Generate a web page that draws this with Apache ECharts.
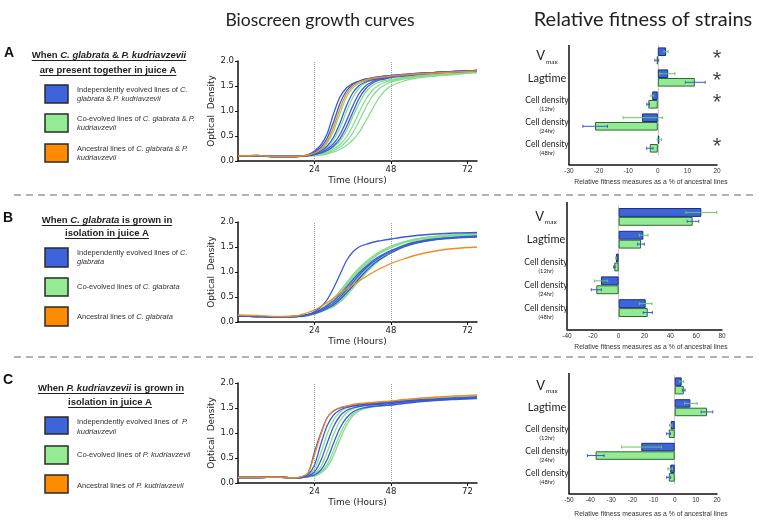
<!DOCTYPE html>
<html><head><meta charset="utf-8">
<script src="https://cdn.jsdelivr.net/npm/echarts@6/dist/echarts.min.js"></script>
<style>html,body{margin:0;padding:0;background:#fff}#c{width:763px;height:521px}</style>
</head><body><div id="c"></div>
<script>
// ---------- DATA ----------
const hours = [0,6,12,18,20,22,24,26,28,30,32,34,36,38,40,42,44,46,48,52,56,62,68,75];
const timeTicks = [24,48,72];

// Panel A growth curves (C. glabrata & P. kudriavzevii together)
const growthA_indep = [
 [0.10,0.11,0.09,0.09,0.10,0.13,0.20,0.32,0.55,0.95,1.28,1.46,1.55,1.60,1.64,1.66,1.68,1.70,1.71,1.73,1.75,1.77,1.79,1.81],
 [0.10,0.11,0.09,0.09,0.10,0.12,0.18,0.27,0.46,0.78,1.15,1.40,1.53,1.59,1.63,1.66,1.68,1.69,1.71,1.73,1.75,1.77,1.79,1.81],
 [0.10,0.10,0.09,0.09,0.10,0.11,0.14,0.20,0.30,0.48,0.76,1.10,1.36,1.51,1.58,1.62,1.65,1.67,1.69,1.72,1.74,1.77,1.79,1.81],
 [0.10,0.10,0.09,0.09,0.10,0.11,0.13,0.17,0.24,0.35,0.53,0.80,1.10,1.35,1.50,1.58,1.63,1.66,1.68,1.71,1.74,1.77,1.79,1.81],
 [0.10,0.10,0.09,0.09,0.10,0.11,0.13,0.16,0.21,0.30,0.45,0.68,0.97,1.25,1.44,1.55,1.61,1.64,1.67,1.70,1.73,1.76,1.78,1.80]
];
const growthA_coev = [
 [0.10,0.10,0.09,0.09,0.10,0.11,0.15,0.22,0.36,0.60,0.95,1.27,1.46,1.55,1.60,1.63,1.65,1.67,1.68,1.71,1.73,1.75,1.77,1.79],
 [0.10,0.10,0.09,0.09,0.10,0.11,0.13,0.18,0.27,0.42,0.66,0.98,1.27,1.46,1.56,1.61,1.64,1.66,1.67,1.70,1.72,1.75,1.77,1.79],
 [0.10,0.10,0.09,0.09,0.10,0.10,0.12,0.15,0.20,0.28,0.40,0.60,0.88,1.15,1.37,1.50,1.57,1.61,1.63,1.67,1.70,1.73,1.76,1.78],
 [0.10,0.10,0.09,0.09,0.10,0.10,0.12,0.14,0.18,0.24,0.33,0.48,0.70,0.97,1.22,1.40,1.51,1.57,1.61,1.66,1.69,1.72,1.75,1.78],
 [0.10,0.10,0.09,0.09,0.10,0.10,0.11,0.13,0.16,0.21,0.28,0.39,0.56,0.80,1.06,1.28,1.43,1.52,1.58,1.64,1.68,1.71,1.74,1.77],
 [0.10,0.10,0.09,0.09,0.10,0.10,0.11,0.12,0.14,0.18,0.23,0.31,0.42,0.57,0.79,1.02,1.24,1.40,1.50,1.60,1.66,1.70,1.73,1.77]
];
const growthA_anc = [
 [0.10,0.11,0.09,0.09,0.10,0.12,0.16,0.24,0.40,0.68,1.05,1.34,1.50,1.58,1.62,1.65,1.67,1.68,1.70,1.72,1.74,1.76,1.78,1.80]
];

// Panel B growth curves (C. glabrata alone)
const growthB_indep = [
 [0.12,0.11,0.10,0.11,0.12,0.15,0.21,0.30,0.45,0.68,0.95,1.22,1.40,1.50,1.55,1.59,1.62,1.64,1.66,1.70,1.73,1.76,1.78,1.79],
 [0.12,0.11,0.10,0.11,0.12,0.15,0.19,0.25,0.33,0.42,0.55,0.69,0.84,0.98,1.10,1.21,1.30,1.37,1.43,1.53,1.60,1.66,1.69,1.71],
 [0.12,0.11,0.10,0.11,0.12,0.14,0.18,0.23,0.30,0.38,0.50,0.64,0.79,0.94,1.07,1.18,1.27,1.35,1.41,1.52,1.59,1.65,1.68,1.70],
 [0.12,0.11,0.10,0.11,0.12,0.14,0.17,0.21,0.27,0.34,0.45,0.58,0.72,0.87,1.01,1.13,1.23,1.31,1.38,1.50,1.58,1.65,1.69,1.72]
];
const growthB_coev = [
 [0.12,0.11,0.10,0.11,0.12,0.14,0.19,0.26,0.35,0.47,0.62,0.78,0.94,1.08,1.20,1.30,1.39,1.46,1.52,1.60,1.66,1.71,1.74,1.76],
 [0.12,0.11,0.10,0.11,0.12,0.14,0.18,0.24,0.33,0.44,0.57,0.72,0.87,1.01,1.14,1.25,1.35,1.42,1.48,1.58,1.65,1.71,1.74,1.77],
 [0.12,0.11,0.10,0.11,0.12,0.13,0.17,0.22,0.29,0.36,0.47,0.61,0.76,0.91,1.05,1.17,1.27,1.35,1.42,1.54,1.62,1.69,1.73,1.75],
 [0.12,0.11,0.10,0.11,0.11,0.13,0.16,0.21,0.27,0.33,0.43,0.56,0.71,0.86,1.00,1.13,1.24,1.33,1.40,1.52,1.61,1.68,1.72,1.74],
 [0.12,0.11,0.10,0.11,0.11,0.13,0.16,0.20,0.25,0.31,0.40,0.52,0.67,0.82,0.97,1.10,1.21,1.30,1.38,1.50,1.60,1.68,1.72,1.75],
 [0.12,0.11,0.10,0.11,0.12,0.14,0.18,0.25,0.34,0.45,0.59,0.75,0.90,1.04,1.17,1.28,1.37,1.44,1.50,1.59,1.66,1.71,1.75,1.77]
];
const growthB_anc = [
 [0.14,0.13,0.11,0.12,0.15,0.19,0.24,0.31,0.39,0.48,0.57,0.66,0.74,0.82,0.90,0.98,1.05,1.11,1.17,1.26,1.34,1.42,1.47,1.50]
];

// Panel C growth curves (P. kudriavzevii alone)
const growthC_indep = [
 [0.11,0.11,0.12,0.10,0.12,0.20,0.62,1.00,1.31,1.44,1.50,1.53,1.55,1.57,1.58,1.59,1.60,1.61,1.62,1.64,1.66,1.68,1.70,1.72],
 [0.11,0.11,0.12,0.10,0.12,0.17,0.36,0.78,1.15,1.36,1.46,1.51,1.54,1.56,1.57,1.58,1.59,1.60,1.61,1.63,1.65,1.67,1.69,1.71],
 [0.11,0.11,0.12,0.10,0.11,0.14,0.22,0.45,0.80,1.13,1.34,1.45,1.50,1.53,1.55,1.56,1.57,1.58,1.59,1.62,1.64,1.66,1.68,1.70],
 [0.11,0.11,0.12,0.10,0.11,0.13,0.16,0.26,0.47,0.80,1.10,1.30,1.42,1.48,1.51,1.53,1.54,1.55,1.56,1.59,1.62,1.65,1.67,1.69]
];
const growthC_coev = [
 [0.11,0.11,0.12,0.10,0.12,0.15,0.28,0.60,0.98,1.26,1.42,1.50,1.54,1.57,1.59,1.60,1.61,1.62,1.63,1.66,1.68,1.70,1.72,1.74],
 [0.11,0.11,0.12,0.10,0.11,0.13,0.18,0.33,0.62,0.97,1.24,1.40,1.48,1.53,1.56,1.58,1.59,1.60,1.61,1.64,1.66,1.69,1.71,1.73],
 [0.11,0.11,0.12,0.10,0.11,0.13,0.15,0.22,0.37,0.65,0.97,1.22,1.38,1.46,1.50,1.53,1.55,1.56,1.57,1.60,1.63,1.66,1.69,1.71],
 [0.11,0.11,0.12,0.10,0.11,0.12,0.14,0.20,0.32,0.55,0.87,1.15,1.34,1.44,1.49,1.52,1.54,1.55,1.56,1.60,1.63,1.66,1.69,1.71]
];
const growthC_anc = [
 [0.11,0.11,0.12,0.10,0.13,0.20,0.56,0.97,1.30,1.45,1.51,1.54,1.57,1.59,1.60,1.61,1.62,1.63,1.64,1.67,1.69,1.72,1.74,1.76]
];

// Relative fitness bars
const fitnessCats = ['Vmax','Lagtime','Cell density (12hr)','Cell density (24hr)','Cell density (48hr)'];
const barA_indep = [2.8, 3.5, -1.9, -5.3, 0.5];
const barA_coev  = [-0.3, 12.5, -3.2, -21.2, -2.7];
const errA_indep_lo = [2.1, 0.6, -2.3, -11.7, -0.2];
const errA_indep_hi = [3.5, 5.8, -1.5, 1.5, 1.3];
const errA_coev_lo  = [-1.0, 9.3, -3.7, -25.3, -3.8];
const errA_coev_hi  = [0.3, 16.0, -2.8, -17.0, -1.6];
const starsA = ['*','*','*','','*'];

const barB_indep = [64, 19.1, -2.1, -13.7, 20.9];
const barB_coev  = [57.3, 17.3, -3.4, -17.3, 22.5];
const errB_indep_lo = [52, 16, -2.4, -18.8, 16];
const errB_indep_hi = [76, 22.7, -1.8, -8.5, 25.8];
const errB_coev_lo  = [53, 14.7, -3.9, -21.2, 19];
const errB_coev_hi  = [62, 19.9, -2.8, -13.4, 26];

const barC_indep = [3.3, 7.4, -1.9, -15.8, -2.1];
const barC_coev  = [4.3, 15.3, -2.8, -37.4, -2.8];
const errC_indep_lo = [2.4, 4.7, -2.5, -25.2, -3.2];
const errC_indep_hi = [4.3, 10.6, -1.3, -6.3, -1.1];
const errC_coev_lo  = [3.6, 12.5, -3.8, -41.3, -3.8];
const errC_coev_hi  = [4.9, 18.0, -2.0, -33.4, -1.9];

const fitnessRanges = [[-30,20,10],[-40,80,20],[-50,20,10]];

// ---------- STYLE ----------
const BLUE = '#3a5ad8', GREEN = '#84dd8c', ORANGE = '#f28a1e';
const BAR_BLUE = '#3e64dc', BAR_BLUE_B = '#1c2f80', BAR_GREEN = '#93ec93', BAR_GREEN_B = '#2f6a2f';
const ERR_GREEN = '#62c862', ERR_BLUE = '#3a58d6';
const SANS = 'Liberation Sans', MPL = 'DejaVu Sans', CAL = 'Lato';

const chart = echarts.init(document.getElementById('c'), null, {renderer:'canvas'});

const growthTops = [61, 222, 383];
const barGrids = [
  {left:569, top:45, height:110, right:763-717, axisTop:45},
  {left:567, top:205.5, height:114, right:763-722, axisTop:202},
  {left:569, top:375, height:109, right:763-717, axisTop:373}
];
const AXIS_OFFSET = 10;

const grids = [], xAxes = [], yAxes = [], series = [];

growthTops.forEach((t, gi) => {
  grids.push({left:238, top:t, width:239, height:100});
  xAxes.push({type:'value', gridIndex:gi, min:0, max:75, interval:24,
    name:'Time (Hours)', nameLocation:'middle', nameGap:15,
    nameTextStyle:{fontFamily:MPL, fontSize:9, color:'#222'},
    axisLine:{show:true, lineStyle:{color:'#111', width:1.5}},
    axisTick:{show:true, length:3, lineStyle:{color:'#111'}, customValues:timeTicks},
    axisLabel:{fontFamily:MPL, fontSize:8.5, color:'#222', margin:4, customValues:timeTicks},
    splitLine:{show:false}});
  yAxes.push({type:'value', gridIndex:gi, min:0, max:2, interval:0.5,
    name:'Optical  Density', nameLocation:'middle', nameGap:22,
    nameTextStyle:{fontFamily:MPL, fontSize:9, color:'#222'},
    axisLine:{show:true, lineStyle:{color:'#111', width:1.5}},
    axisTick:{show:true, length:3, lineStyle:{color:'#111'}},
    axisLabel:{fontFamily:MPL, fontSize:8.5, color:'#222', margin:4, formatter:v=>v.toFixed(1)},
    splitLine:{show:false}});
});

const growthSets = [
  [growthA_coev, growthA_indep, growthA_anc],
  [growthB_coev, growthB_indep, growthB_anc],
  [growthC_coev, growthC_indep, growthC_anc]
];
growthSets.forEach((set, gi) => {
  let first = true;
  [[set[0], GREEN], [set[1], BLUE], [set[2], ORANGE]].forEach(([curves, col]) => {
    curves.forEach(arr => {
      const s = {type:'line', xAxisIndex:gi, yAxisIndex:gi, data:hours.map((h,i)=>[h, arr[i]]),
        smooth:0.3, symbol:'none', silent:true, lineStyle:{color:col, width:1.3}, itemStyle:{color:col}, z:3};
      if (first) {
        s.markLine = {silent:true, symbol:['none','none'], label:{show:false},
          lineStyle:{type:'dotted', color:'#9a9a9a', width:1}, data:[{xAxis:24},{xAxis:48}], z:1};
        first = false;
      }
      series.push(s);
    });
  });
});

// category labels
const catLabelText = ['{v|V}{s|max}', '{l|Lagtime}',
  '{sp| }\n{c|Cell density}\n{h|(12hr)}', '{sp| }\n{c|Cell density}\n{h|(24hr)}', '{sp| }\n{c|Cell density}\n{h|(48hr)}'];
const catRich = {
  v:{fontFamily:CAL, fontSize:13, color:'#222'},
  s:{fontFamily:CAL, fontSize:6.5, color:'#222', padding:[11,0,0,1]},
  l:{fontFamily:CAL, fontSize:11, color:'#222'},
  sp:{fontFamily:CAL, fontSize:5, lineHeight:8, color:'#222'},
  c:{fontFamily:CAL, fontSize:8.5, color:'#222', lineHeight:10},
  h:{fontFamily:CAL, fontSize:5.8, color:'#222', lineHeight:8}
};

const barData = [
  [barA_indep, barA_coev, errA_indep_lo, errA_indep_hi, errA_coev_lo, errA_coev_hi],
  [barB_indep, barB_coev, errB_indep_lo, errB_indep_hi, errB_coev_lo, errB_coev_hi],
  [barC_indep, barC_coev, errC_indep_lo, errC_indep_hi, errC_coev_lo, errC_coev_hi]
];
const GAP = 0.22;

function errRender(color, pos) {
  return function (params, api) {
    const c = api.value(0);
    const p1 = api.coord([api.value(1), c]);
    const p2 = api.coord([api.value(2), c]);
    const band = api.size([0, 1])[1];
    const bh = band * (1 - GAP) / 2;
    const y = p1[1] + pos * bh / 2;
    const st = {stroke:color, lineWidth:1};
    return {type:'group', children:[
      {type:'line', shape:{x1:p1[0], y1:y, x2:p2[0], y2:y}, style:st},
      {type:'line', shape:{x1:p1[0], y1:y-1.5, x2:p1[0], y2:y+1.5}, style:st},
      {type:'line', shape:{x1:p2[0], y1:y-1.5, x2:p2[0], y2:y+1.5}, style:st}
    ]};
  };
}

barGrids.forEach((g, k) => {
  const gi = 3 + k;
  const r = fitnessRanges[k];
  grids.push({left:g.left, top:g.top, height:g.height, right:g.right});
  xAxes.push({type:'value', gridIndex:gi, min:r[0], max:r[1], interval:r[2], offset:AXIS_OFFSET,
    axisLine:{show:true, onZero:false, lineStyle:{color:'#111', width:1.5}},
    axisTick:{show:false},
    axisLabel:{fontFamily:SANS, fontSize:6.5, color:'#333', margin:3},
    splitLine:{show:false}});
  yAxes.push({type:'category', gridIndex:gi, data:fitnessCats, inverse:true,
    axisLine:{show:false},
    axisTick:{show:false},
    axisLabel:{interval:0, hideOverlap:false, align:'center', margin:k===1?21:22, formatter:(v, i)=>catLabelText[i], rich:catRich},
    splitLine:{show:false}});
  const d = barData[k];
  series.push({type:'bar', xAxisIndex:gi, yAxisIndex:gi, data:d[0], barGap:'0%', barCategoryGap:(GAP*100)+'%',
    itemStyle:{color:BAR_BLUE, borderColor:BAR_BLUE_B, borderWidth:1}, silent:true, z:2,
    markLine:{silent:true, symbol:['none','none'], label:{show:false}, lineStyle:{type:'solid', color:'#c9c9c9', width:1}, data:[{xAxis:0}], z:1}});
  series.push({type:'bar', xAxisIndex:gi, yAxisIndex:gi, data:d[1], barGap:'0%', barCategoryGap:(GAP*100)+'%',
    itemStyle:{color:BAR_GREEN, borderColor:BAR_GREEN_B, borderWidth:1}, silent:true, z:2});
  series.push({type:'custom', xAxisIndex:gi, yAxisIndex:gi, silent:true, z:4,
    data:d[2].map((lo,i)=>[i, lo, d[3][i]]), encode:{x:[1,2], y:0}, renderItem:errRender(ERR_GREEN, -1)});
  series.push({type:'custom', xAxisIndex:gi, yAxisIndex:gi, silent:true, z:4,
    data:d[4].map((lo,i)=>[i, lo, d[5][i]]), encode:{x:[1,2], y:0}, renderItem:errRender(ERR_BLUE, 1)});
});

// significance stars (panel A)
series.push({type:'scatter', xAxisIndex:3, yAxisIndex:3, symbolSize:0.1, silent:true, z:5,
  data: starsA.map((s,i)=> s ? {value:[fitnessRanges[0][1], i]} : null).filter(Boolean),
  label:{show:true, position:'inside', formatter:p=>starsA[p.value[1]], fontFamily:SANS, fontSize:22, color:'#111', offset:[0,3]}});

// ---------- GRAPHIC (titles, legends, separators) ----------
const mctx = document.createElement('canvas').getContext('2d');
function tw(text, font) { mctx.font = font; return mctx.measureText(text).width; }

const graphic = [];
function txt(x, y, text, opts) {
  graphic.push({type:'text', x, y, silent:true, style:Object.assign({text, fill:'#222', align:'left', verticalAlign:'middle', textAlign:'left', textVerticalAlign:'middle'}, opts)});
}
function header(cx, y, segs) {
  const size = 9.5;
  let w = 0;
  segs.forEach(s => { w += tw(s[0], (s[1] ? 'italic ' : '') + 'bold ' + size + 'px "' + SANS + '"'); });
  const str = segs.map(s => '{' + (s[1] ? 'i' : 'n') + '|' + s[0] + '}').join('');
  graphic.push({type:'text', x:cx - w/2, y, silent:true, style:{text:str, align:'left', verticalAlign:'middle', textAlign:'left', textVerticalAlign:'middle',
    rich:{n:{fontFamily:SANS, fontWeight:'bold', fontSize:size, fill:'#222'}, i:{fontFamily:SANS, fontWeight:'bold', fontStyle:'italic', fontSize:size, fill:'#222'}}}});
  graphic.push({type:'line', silent:true, shape:{x1:cx - w/2, y1:y + 5.5, x2:cx + w/2, y2:y + 5.5}, style:{stroke:'#222', lineWidth:1}});
}
function legendItem(box, color, lines, cy) {
  graphic.push({type:'rect', silent:true, shape:{x:box[0], y:box[1], width:box[2], height:box[3]}, style:{fill:color, stroke:'#2a2a2a', lineWidth:1.5}});
  const str = lines.map(line => line.map(s => '{' + (s[1] ? 'i' : 'n') + '|' + s[0] + '}').join('')).join('\n');
  graphic.push({type:'text', x:77, y:cy, silent:true, style:{text:str, align:'left', verticalAlign:'middle', textAlign:'left', textVerticalAlign:'middle',
    rich:{n:{fontFamily:SANS, fontSize:7.5, fill:'#333', lineHeight:9.5}, i:{fontFamily:SANS, fontStyle:'italic', fontSize:7.5, fill:'#333', lineHeight:9.5}}}});
}

txt(320, 20, 'Bioscreen growth curves', {fontFamily:CAL, fontSize:17.5, align:'center', textAlign:'center', fill:'#222'});
txt(643, 20, 'Relative fitness of strains', {fontFamily:CAL, fontSize:20, align:'center', textAlign:'center', fill:'#222'});

txt(4, 53, 'A', {fontFamily:SANS, fontWeight:'bold', fontSize:14, fill:'#111'});
txt(3, 218, 'B', {fontFamily:SANS, fontWeight:'bold', fontSize:14, fill:'#111'});
txt(3, 380, 'C', {fontFamily:SANS, fontWeight:'bold', fontSize:14, fill:'#111'});

header(109, 55, [['When ',0],['C. glabrata',1],[' & ',0],['P. kudriavzevii',1]]);
header(108, 70, [['are present together in juice A',0]]);
header(107, 220, [['When ',0],['C. glabrata',1],[' is grown in',0]]);
header(107, 233, [['isolation in juice A',0]]);
header(111, 388, [['When ',0],['P. kudriavzevii',1],[' is grown in',0]]);
header(110, 402, [['isolation in juice A',0]]);

legendItem([45,85,23,18], BAR_BLUE, [[['Independently evolved lines of ',0],['C.',1]],[['glabrata',1],[' & ',0],['P. kudriavzevii',1]]], 94.5);
legendItem([45,114,23,18], BAR_GREEN, [[['Co-evolved lines of ',0],['C. glabrata',1],[' & ',0],['P.',1]],[['kudriavzevii',1]]], 123.5);
legendItem([45,144,23,18], '#ff8c00', [[['Ancestral lines of ',0],['C. glabrata',1],[' & ',0],['P.',1]],[['kudriavzevii',1]]], 153.5);

legendItem([45,248,23,19], BAR_BLUE, [[['Independently evolved lines of ',0],['C.',1]],[['glabrata',1]]], 257.5);
legendItem([45,278,23,18], BAR_GREEN, [[['Co-evolved lines of ',0],['C. glabrata',1]]], 287);
legendItem([45,307,23,19], '#ff8c00', [[['Ancestral lines of ',0],['C. glabrata',1]]], 316.5);

legendItem([45,417,23,17], BAR_BLUE, [[['Independently evolved lines of  ',0],['P.',1]],[['kudriavzevii',1]]], 427);
legendItem([45,446,23,18], BAR_GREEN, [[['Co-evolved lines of ',0],['P. kudriavzevii',1]]], 455);
legendItem([45,475,23,18], '#ff8c00', [[['Ancestral lines of ',0],['P. kudriavzevii',1]]], 485.5);

// dashed separators
[195, 357].forEach(y => graphic.push({type:'line', silent:true, shape:{x1:14, y1:y, x2:757, y2:y}, style:{stroke:'#999', lineWidth:1.5, lineDash:[7,5]}}));

// bar-chart vertical axis lines (run from top of axis to the offset x-axis)
barGrids.forEach(g => {
  graphic.push({type:'line', silent:true, shape:{x1:g.left, y1:g.axisTop, x2:g.left, y2:g.top + g.height + AXIS_OFFSET}, style:{stroke:'#111', lineWidth:1.5}});
});
// bar-chart axis titles
[182, 347, 514].forEach(y => txt(651, y, 'Relative fitness measures as a % of ancestral lines', {fontFamily:SANS, fontSize:6.8, align:'center', textAlign:'center', fill:'#333'}));

chart.setOption({
  animation:false,
  backgroundColor:'#fff',
  grid:grids, xAxis:xAxes, yAxis:yAxes, series:series, graphic:graphic
});
</script></body></html>
